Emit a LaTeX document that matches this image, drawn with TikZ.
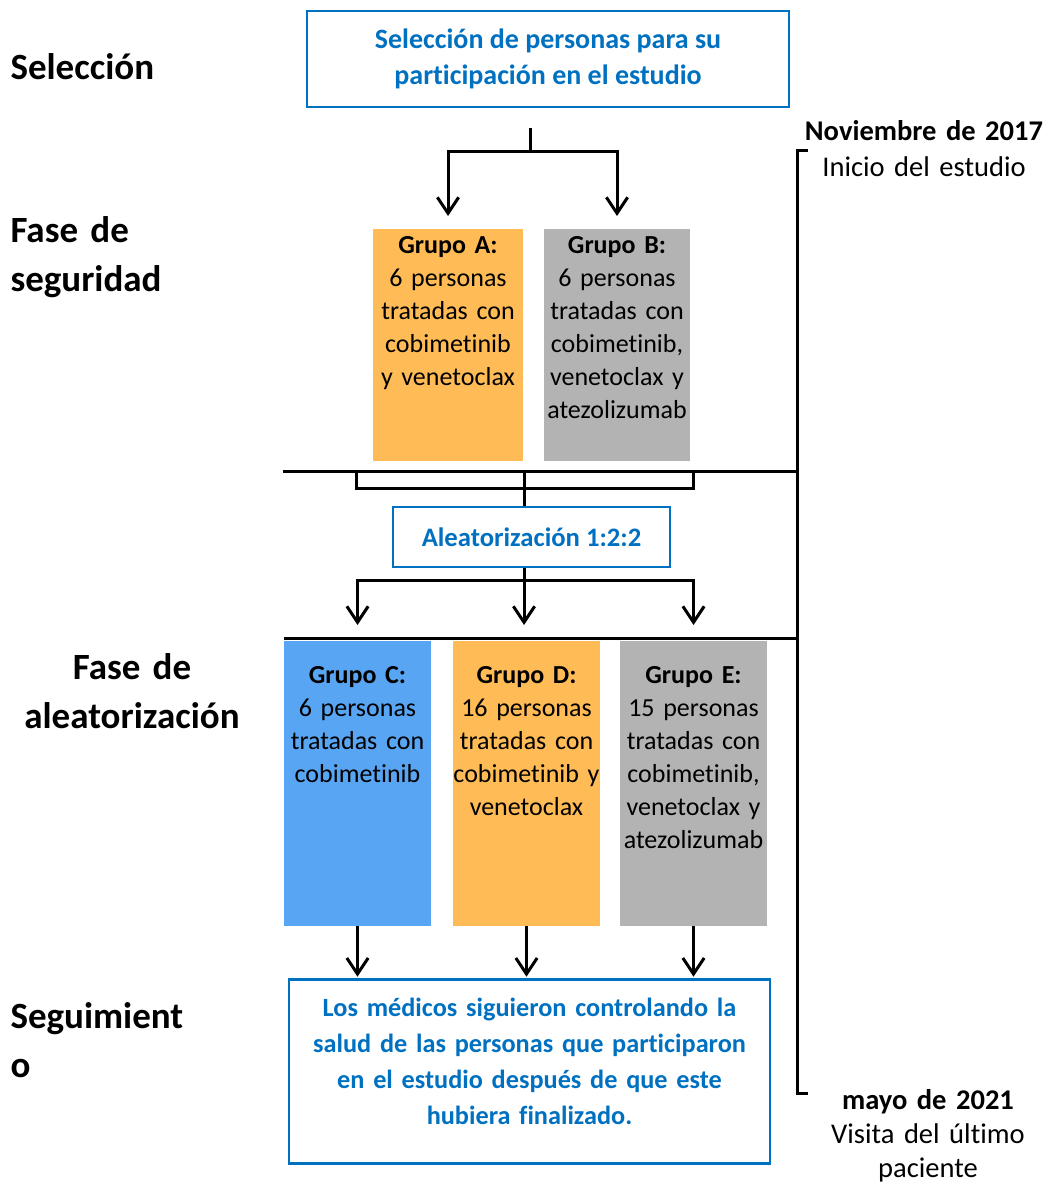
\documentclass[tikz,border=0pt]{standalone}
\usepackage{fontspec}
\setmainfont{Carlito}[Ligatures={NoCommon}]
\usetikzlibrary{arrows.meta}

\definecolor{bluetxt}{RGB}{0,112,192}
\definecolor{grporange}{RGB}{255,187,85}
\definecolor{grpgray}{RGB}{179,179,179}
\definecolor{grpblue}{RGB}{88,165,244}

\tikzset{every picture/.style={line width=0.75pt}}
\tikzset{
  stagelbl/.style={inner sep=0pt, text width=220pt, align=left, font=\bfseries\fontsize{27.75}{#1}\selectfont},
  bluebox/.style={draw=bluetxt, line width=2pt, text=bluetxt, align=center, inner sep=0pt, font=\bfseries\fontsize{20}{27}\selectfont},
  grp/.style={inner ysep=0pt, inner xsep=-8pt, align=center, anchor=north, font=\fontsize{19.5}{24.75}\selectfont},
  datetxt/.style={inner sep=0pt, text width=200pt, align=center, anchor=base},
  conn/.style={line width=2.25pt},
  arr/.style={conn, -{Straight Barb[length=12pt,width=16pt]}},
  tline/.style={line width=2.25pt},
}

\begin{document}
\begin{tikzpicture}[x=0.75pt,y=0.75pt,yscale=-1,xscale=1]
\useasboundingbox (0,0) rectangle (1046,1184);

% Text Node
\node[stagelbl=36.75pt, anchor=base west] (lblsel) at (10,80) {Selección};
% Text Node
\node[stagelbl=36.75pt, anchor=base west] (lblseg) at (10,242) {Fase de\\seguridad};
% Text Node
\node[stagelbl=36.75pt, align=center, anchor=base] (lblalea) at (132,679) {Fase de\\aleatorización};
% Text Node
\node[stagelbl=36.75pt, anchor=base west] (lblfollow) at (10,1028) {Seguimient\\o};

%Shape: Rectangle
\node[bluebox, minimum width=361.5pt, minimum height=72pt, font=\bfseries\fontsize{21}{26.5}\selectfont] (selbox) at (548,59) {Selección de personas para su\\participación en el estudio};
%Shape: Rectangle
\node[grp, fill=grporange, text width=128.5pt, text height=18.75pt, text depth=155.25pt] (grpA) at (448,228) {\textbf{Grupo A:}\\6 personas\\tratadas con\\cobimetinib\\y venetoclax};
%Shape: Rectangle
\node[grp, fill=grpgray, text width=125.5pt, text height=18.75pt, text depth=155.25pt] (grpB) at (617,228) {\textbf{Grupo B:}\\6 personas\\tratadas con\\cobimetinib,\\venetoclax y\\atezolizumab};
%Shape: Rectangle
\node[bluebox, minimum width=207.75pt, minimum height=45pt] (alea) at (531.5,537) {Aleatorización 1:2:2};
%Shape: Rectangle
\node[grp, fill=grpblue, text width=126.25pt, text height=32.25pt, text depth=181.5pt] (grpC) at (357.5,640) {\textbf{Grupo C:}\\6 personas\\tratadas con\\cobimetinib};
%Shape: Rectangle
\node[grp, fill=grporange, text width=126.25pt, text height=32.25pt, text depth=181.5pt] (grpD) at (526.5,640) {\textbf{Grupo D:}\\16 personas\\tratadas con\\cobimetinib y\\venetoclax};
%Shape: Rectangle
\node[grp, fill=grpgray, text width=126.25pt, text height=32.25pt, text depth=181.5pt] (grpE) at (693.5,640) {\textbf{Grupo E:}\\15 personas\\tratadas con\\cobimetinib,\\venetoclax y\\atezolizumab};
%Shape: Rectangle
\node[bluebox, anchor=north, text width=360.75pt, text height=27.75pt, text depth=110.25pt, font=\bfseries\fontsize{19.7}{27}\selectfont] (follow) at (529.5,978) {Los médicos siguieron controlando la\\salud de las personas que participaron\\en el estudio después de que este\\hubiera finalizado.};

% Text Node
\node[datetxt, font=\fontsize{21.4}{27}\selectfont] (start) at (924,141) {\textbf{Noviembre de 2017}\\Inicio del estudio};
% Text Node
\node[datetxt, font=\fontsize{21.4}{25.5}\selectfont] (lastvisit) at (928,1109) {\textbf{mayo de 2021}\\Visita del último\\paciente};

%Straight Lines
\coordinate (selfoot) at (530,128);
\coordinate (split1) at (530,152);
\draw[conn] (selfoot) -- (split1);
\draw[arr, shorten >=9pt] (split1) -| (grpA.north);
\draw[arr, shorten >=9pt] (split1) -| (grpB.north);

%Straight Lines
\coordinate (join) at (524,471);
\draw[conn] (356,471) |- (693,488) -- (693,471);
\draw[conn] (join) -- (join |- alea.north);

%Straight Lines
\coordinate (split2) at (524,580);
\draw[conn] (split2 |- alea.south) -- (split2);
\draw[arr, shorten >=11.25pt] (split2) -| (grpC.north);
\draw[arr, shorten >=11.25pt] (split2) -- (split2 |- grpD.north);
\draw[arr, shorten >=11.25pt] (split2) -| (grpE.north);

%Straight Lines
\foreach \g in {grpC,grpD,grpE}
  \draw[arr, shorten >=1pt] (\g.south) -- (\g.south |- follow.north);

%Timeline
\coordinate (tltop) at (797,151);
\coordinate (tlbot) at (797,1093);
\draw[tline] (808,151) -- (tltop) -- (tlbot) -- (808,1093);
\draw[tline] (283,471) -- (797,471);
\draw[tline] (284,638) -- (797,638);

\end{tikzpicture}
\end{document}
